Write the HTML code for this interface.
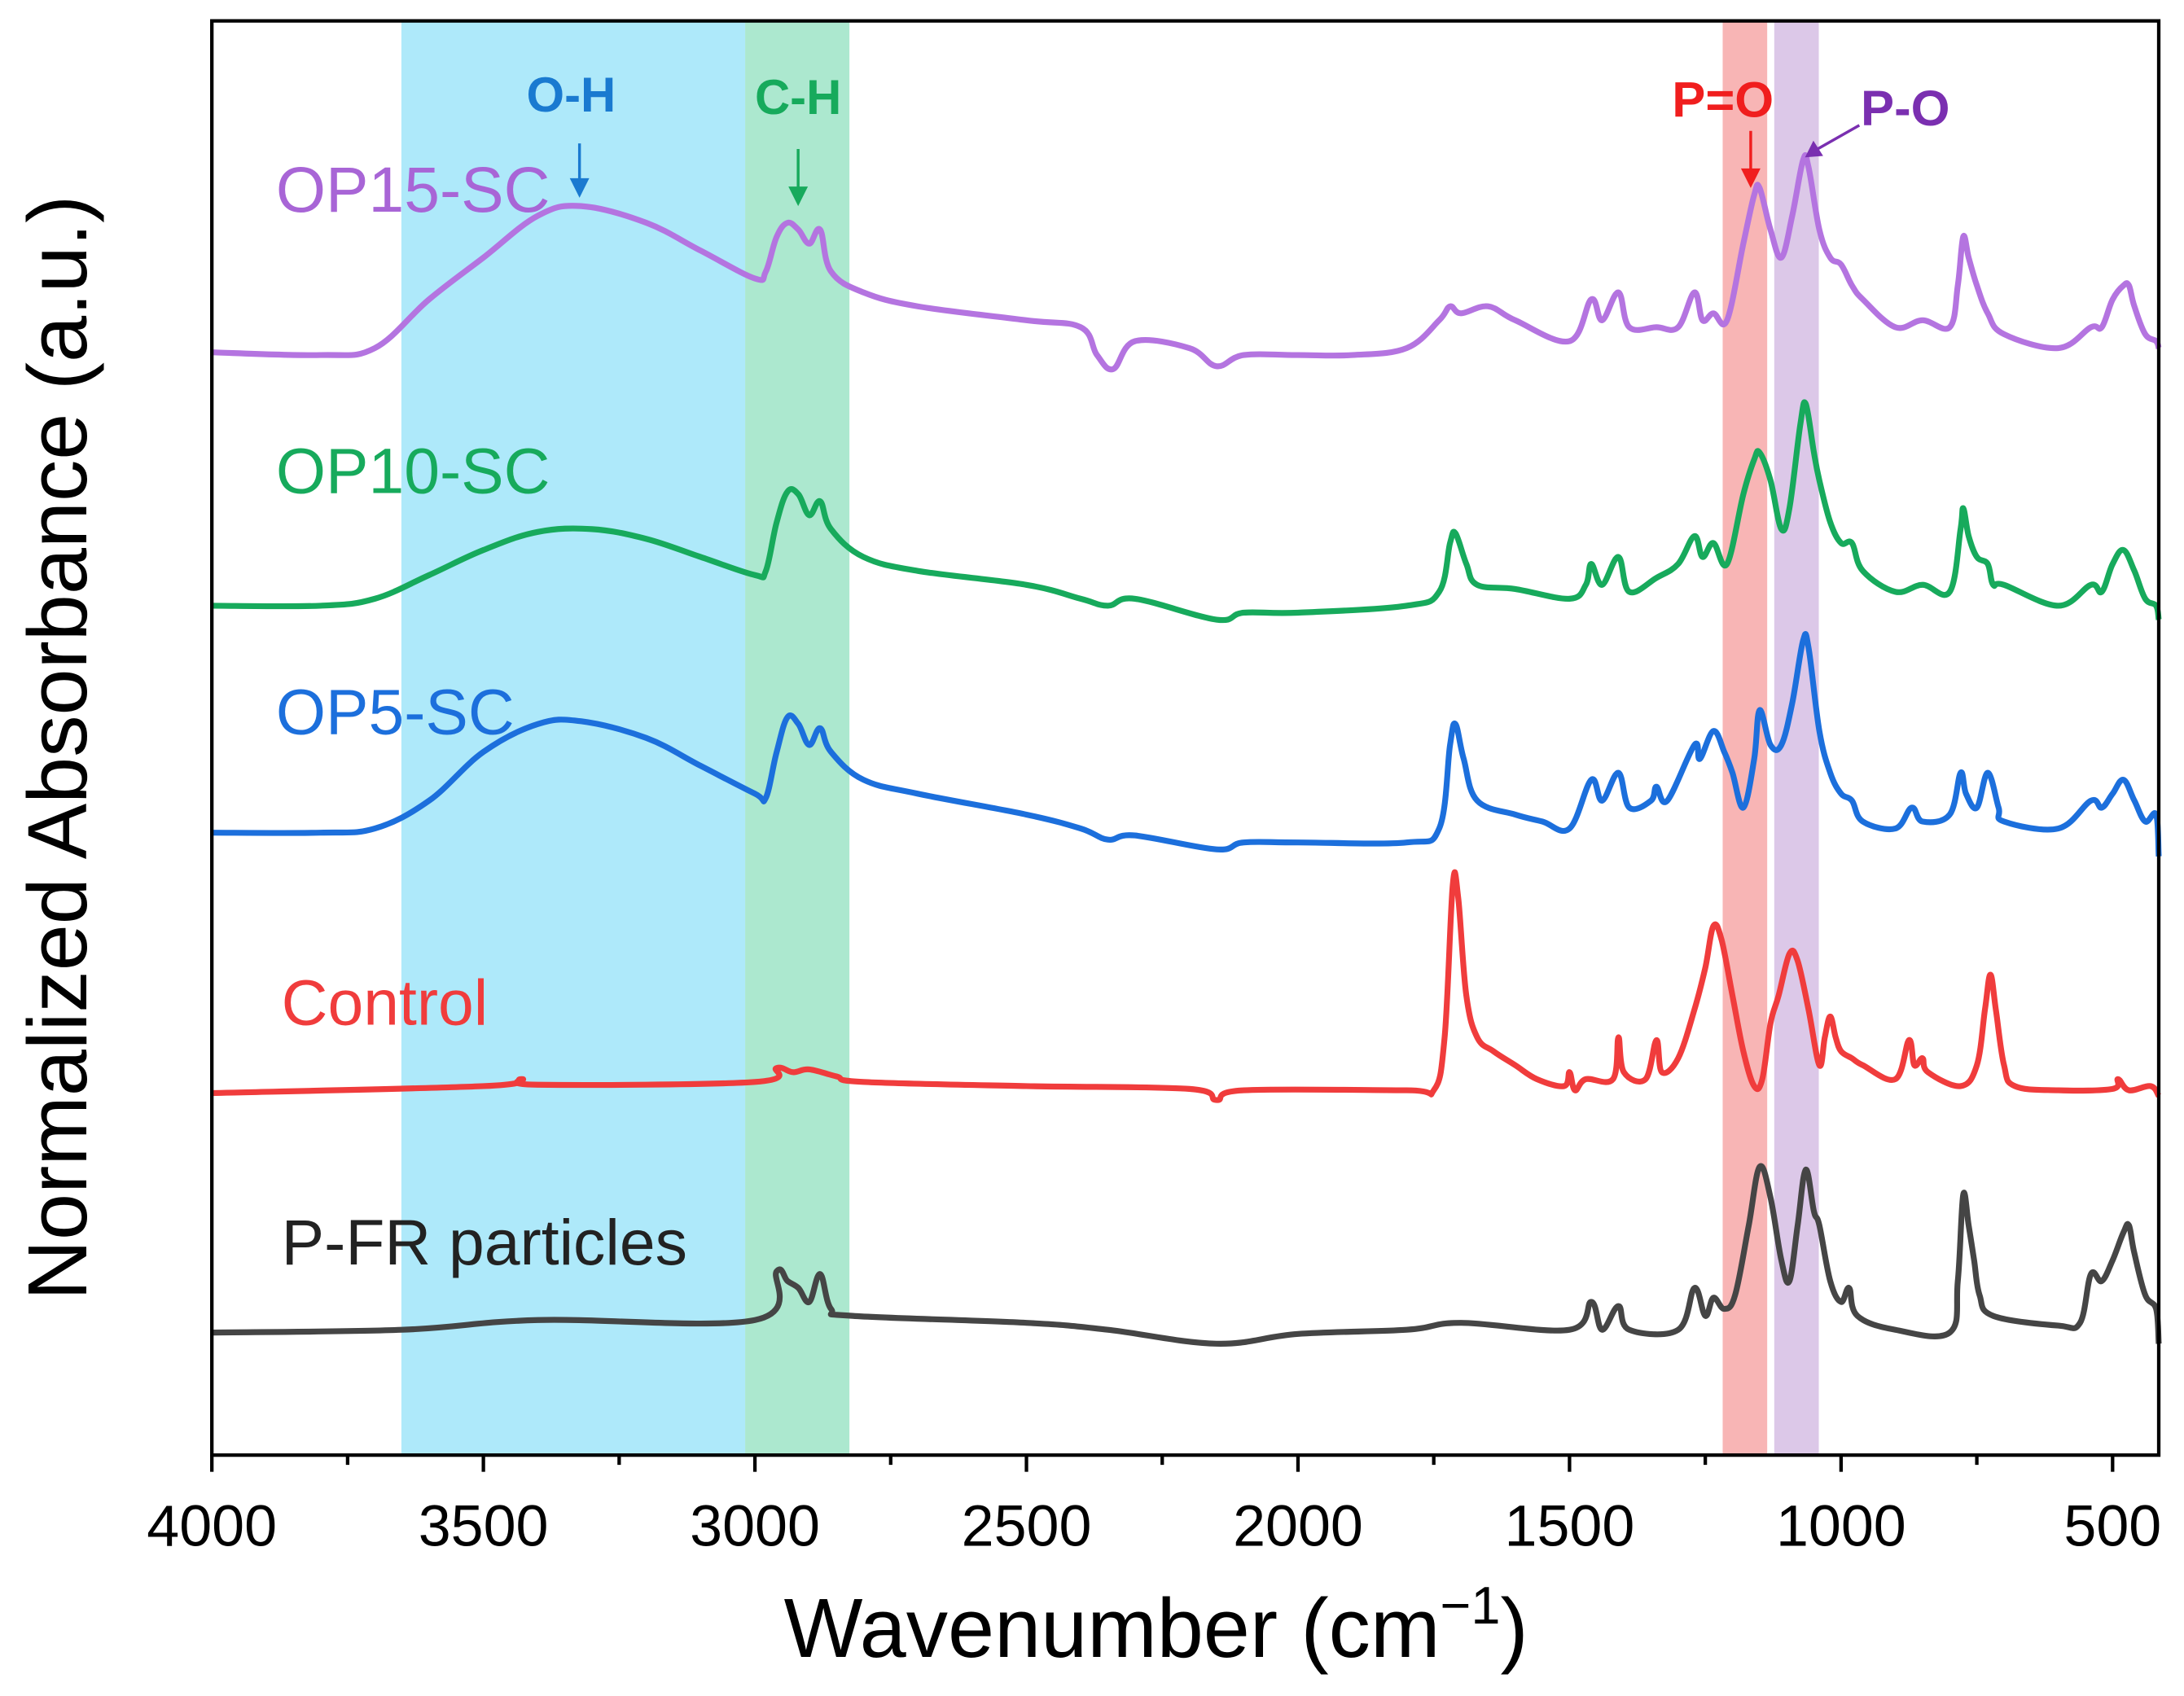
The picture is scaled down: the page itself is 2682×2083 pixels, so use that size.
<!DOCTYPE html>
<html><head><meta charset="utf-8"><style>
html,body{margin:0;padding:0;background:#fff}
svg{display:block}
text{font-family:"Liberation Sans",Arial,sans-serif}
</style></head><body>
<svg id="chart" xmlns="http://www.w3.org/2000/svg" width="2682" height="2083" viewBox="0 0 1568 1218">
<g id="bands"></g>
<g id="series"></g>
<g id="axes"></g>
<g id="labels"></g>
</svg>
<script>
const xTicks=[4000,3500,3000,2500,2000,1500,1000,500];
const bandRanges=[[3651,3018],[3018,2826],[1218,1136],[1123,1041]];
const bandColors=["#aee9fa","#ace8cf","#f8b5b5","#dcc8e8"];
const seriesNames=["P-FR particles","Control","OP5-SC","OP10-SC","OP15-SC"];
const seriesColors=["#454545","#f03c3c","#1c6fdc","#17aa5c","#b474e0"];
const wn_pfr=[4000,3650,3400,3000,2960,2940,2920,2900,2880,2860,2820,2500,2350,2150,2000,1800,1700,1500,1460,1440,1410,1390,1300,1270,1250,1235,1215,1195,1170,1150,1130,1110,1095,1080,1065,1050,1040,1020,1000,985,970,900,800,785,775,765,755,745,720,600,560,540,520,500,480,470,460,440,420,415];
const ab_pfr=[88,90,97,97,132,125,120,110,130,105,100,95,90,80,87,90,95,90,110,90,107,90,90,120,100,113,105,115,165,207,185,140,125,165,205,175,165,125,110,120,100,90,88,125,187,165,140,115,100,93,95,130,125,140,160,165,145,115,105,80];
const wn_ctrl=[4000,3500,3430,3400,3000,2960,2930,2900,2850,2800,2500,2200,2150,2100,1800,1750,1730,1715,1705,1690,1670,1640,1600,1560,1510,1500,1490,1470,1420,1410,1400,1360,1340,1330,1300,1270,1250,1235,1220,1200,1180,1160,1145,1130,1115,1095,1080,1060,1040,1030,1020,1010,1000,980,960,900,875,865,850,840,780,750,735,725,715,700,680,600,500,490,470,430,415];
const ab_ctrl=[260,265,270,266,268,278,275,277,272,268,265,263,255,262,262,262,300,410,400,330,300,290,280,270,265,275,262,270,270,300,275,270,298,275,285,320,350,380,370,330,290,265,270,310,330,360,355,320,280,300,315,300,290,285,280,270,298,280,285,275,265,280,320,345,320,280,265,262,263,270,262,265,258];
const wn_op5=[4000,3800,3700,3600,3500,3400,3320,3200,3100,3000,2980,2960,2940,2920,2900,2880,2860,2800,2700,2500,2400,2350,2300,2150,2100,2000,1800,1740,1720,1710,1695,1670,1600,1550,1500,1460,1440,1410,1390,1350,1340,1320,1270,1260,1235,1215,1200,1180,1160,1150,1130,1110,1090,1070,1060,1040,1020,1000,980,960,900,870,850,800,780,770,750,730,710,700,600,540,520,500,480,460,440,420,415];
const ab_op5=[447,447,450,470,505,525,527,515,495,475,472,505,530,525,510,522,505,485,475,460,450,442,445,435,440,440,440,450,510,525,500,470,460,455,450,485,470,490,465,470,480,470,510,500,520,505,490,465,500,535,510,510,540,585,580,520,490,475,470,455,450,465,455,460,490,475,465,490,465,455,450,470,465,475,485,470,455,460,430];
const wn_op10=[4000,3800,3700,3600,3500,3400,3300,3200,3100,3000,2980,2960,2940,2920,2900,2880,2860,2800,2700,2500,2400,2350,2300,2150,2100,2000,1800,1740,1720,1710,1690,1670,1600,1500,1470,1460,1440,1410,1390,1340,1300,1270,1255,1235,1210,1180,1160,1150,1130,1110,1095,1075,1065,1050,1040,1020,1000,980,960,900,850,800,780,775,765,750,730,720,700,600,540,520,500,480,460,440,420,415];
const ab_op10=[610,610,615,632,650,663,665,658,645,632,635,670,692,690,675,685,665,645,635,625,615,610,615,600,605,605,610,620,655,662,640,625,622,615,625,640,625,645,620,630,640,660,645,655,640,690,715,720,700,665,680,740,755,720,700,670,655,655,635,620,625,620,665,680,660,645,640,625,625,610,625,620,640,650,635,615,610,600];
const wn_op15=[4000,3800,3700,3600,3500,3400,3320,3200,3100,3000,2980,2960,2940,2920,2900,2880,2860,2800,2700,2500,2400,2370,2340,2300,2200,2150,2100,2000,1900,1800,1740,1720,1700,1650,1600,1500,1460,1440,1410,1390,1340,1300,1270,1255,1235,1210,1180,1160,1150,1130,1110,1090,1070,1060,1040,1020,1000,980,960,900,850,800,785,775,765,750,730,700,600,540,520,500,480,470,460,440,420,415];
const ab_op15=[792,790,795,830,860,890,897,885,865,845,850,875,885,880,870,880,850,835,825,815,810,790,780,800,795,782,790,790,790,795,815,825,820,825,815,800,830,815,835,810,810,810,835,815,820,815,870,905,910,880,860,890,930,925,880,860,855,840,830,810,815,810,840,875,860,840,820,805,795,810,810,830,840,840,825,805,800,795];
const seriesWn=[wn_pfr,wn_ctrl,wn_op5,wn_op10,wn_op15];
const seriesAb=[ab_pfr,ab_ctrl,ab_op5,ab_op10,ab_op15];

const L=152,R=1550,T=15,B=1045,XMAX=4000,XMIN=415;
function xs(w){return L+(XMAX-w)/(XMAX-XMIN)*(R-L);}
function ys(v){return B-v;}
const NS="http://www.w3.org/2000/svg";
function mk(tag,attrs,parent){const e=document.createElementNS(NS,tag);for(const k in attrs)e.setAttribute(k,attrs[k]);parent.appendChild(e);return e;}
function smoothPath(p){
 let d="M"+p[0][0].toFixed(1)+","+p[0][1].toFixed(1);
 for(let i=0;i<p.length-1;i++){
  const p0=p[Math.max(0,i-1)],p1=p[i],p2=p[i+1],p3=p[Math.min(p.length-1,i+2)];
  const t=0.18;
  const c1=[p1[0]+(p2[0]-p0[0])*t,p1[1]+(p2[1]-p0[1])*t];
  const c2=[p2[0]-(p3[0]-p1[0])*t,p2[1]-(p3[1]-p1[1])*t];
  d+=" C"+c1[0].toFixed(1)+","+c1[1].toFixed(1)+" "+c2[0].toFixed(1)+","+c2[1].toFixed(1)+" "+p2[0].toFixed(1)+","+p2[1].toFixed(1);
 }
 return d;
}
const gB=document.getElementById('bands'),gS=document.getElementById('series'),gA=document.getElementById('axes');
const bandNames=["oh-band","ch-band","p-double-o-band","p-o-band"];
bandRanges.forEach((r,i)=>{
 const e=mk('rect',{x:xs(r[0]),y:T,width:xs(r[1])-xs(r[0]),height:B-T,fill:bandColors[i]},gB);
 
 
});
const lineNames=["pfr-line","control-line","op5-line","op10-line","op15-line"];
seriesWn.forEach((wn,i)=>{
 const pts=wn.map((w,j)=>[xs(w),ys(seriesAb[i][j])]);
 const e=mk('path',{d:smoothPath(pts),fill:"none",stroke:seriesColors[i],"stroke-width":4.2,"stroke-linejoin":"round"},gS);
 
 
});
const fr=mk('rect',{x:L,y:T,width:R-L,height:B-T,fill:"none",stroke:"#000","stroke-width":2.5},gA);


for(let w=4000;w>=500;w-=250){
 const major=w%500===0;
 const t=mk('line',{x1:xs(w),x2:xs(w),y1:B,y2:B+(major?12:7),stroke:"#000","stroke-width":2.5},gA);
 
 
}
xTicks.forEach(w=>{
 const t=mk('text',{x:xs(w),y:1110,"font-size":42,"text-anchor":"middle",fill:"#000"},gA);
 t.textContent=w;
 
 
});
</script>
<svg style="position:absolute;left:0;top:0" width="2682" height="2083" viewBox="0 0 1568 1218" xmlns="http://www.w3.org/2000/svg">
<text x="830" y="1190" font-size="60" text-anchor="middle" font-family="Liberation Sans, sans-serif">Wavenumber (cm<tspan dy="-24" font-size="38">−1</tspan><tspan dy="24">)</tspan></text>
<text transform="translate(62,537) rotate(-90)" font-size="60" text-anchor="middle" font-family="Liberation Sans, sans-serif">Normalized Absorbance (a.u.)</text>
<text x="198" y="152" font-size="46" fill="#a865d6" font-family="Liberation Sans, sans-serif">OP15-SC</text>
<text x="198" y="354" font-size="46" fill="#17aa5c" font-family="Liberation Sans, sans-serif">OP10-SC</text>
<text x="198" y="527" font-size="46" fill="#1c6fdc" font-family="Liberation Sans, sans-serif">OP5-SC</text>
<text x="202" y="736" font-size="46" fill="#f03c3c" font-family="Liberation Sans, sans-serif">Control</text>
<text x="202" y="908" font-size="46" fill="#222" font-family="Liberation Sans, sans-serif">P-FR particles</text>
<g fill="#1a7ad0" stroke="#1a7ad0">
<text x="410" y="80" font-size="35" font-weight="bold" text-anchor="middle" stroke="none" font-family="Liberation Sans, sans-serif">O-H</text>
<line x1="416" y1="103" x2="416" y2="132" stroke-width="2"/><polygon points="409,128 423,128 416,142" stroke="none"/></g>
<g fill="#17aa5c" stroke="#17aa5c">
<text x="573" y="82" font-size="35" font-weight="bold" text-anchor="middle" stroke="none" font-family="Liberation Sans, sans-serif">C-H</text>
<line x1="573" y1="107" x2="573" y2="138" stroke-width="2"/><polygon points="566,134 580,134 573,148" stroke="none"/></g>
<g fill="#f01e1e" stroke="#f01e1e">
<text x="1237" y="84" font-size="36" font-weight="bold" text-anchor="middle" stroke="none" font-family="Liberation Sans, sans-serif">P=O</text>
<line x1="1257" y1="94" x2="1257" y2="125" stroke-width="2"/><polygon points="1250,121 1264,121 1257,135" stroke="none"/></g>
<g fill="#7a2fb0" stroke="#7a2fb0">
<text x="1368" y="90" font-size="36" font-weight="bold" text-anchor="middle" stroke="none" font-family="Liberation Sans, sans-serif">P-O</text>
<line x1="1335" y1="90" x2="1305" y2="107" stroke-width="2"/><polygon points="1296,113 1302,101 1309,112" stroke="none"/></g>
</svg>
</body></html>
